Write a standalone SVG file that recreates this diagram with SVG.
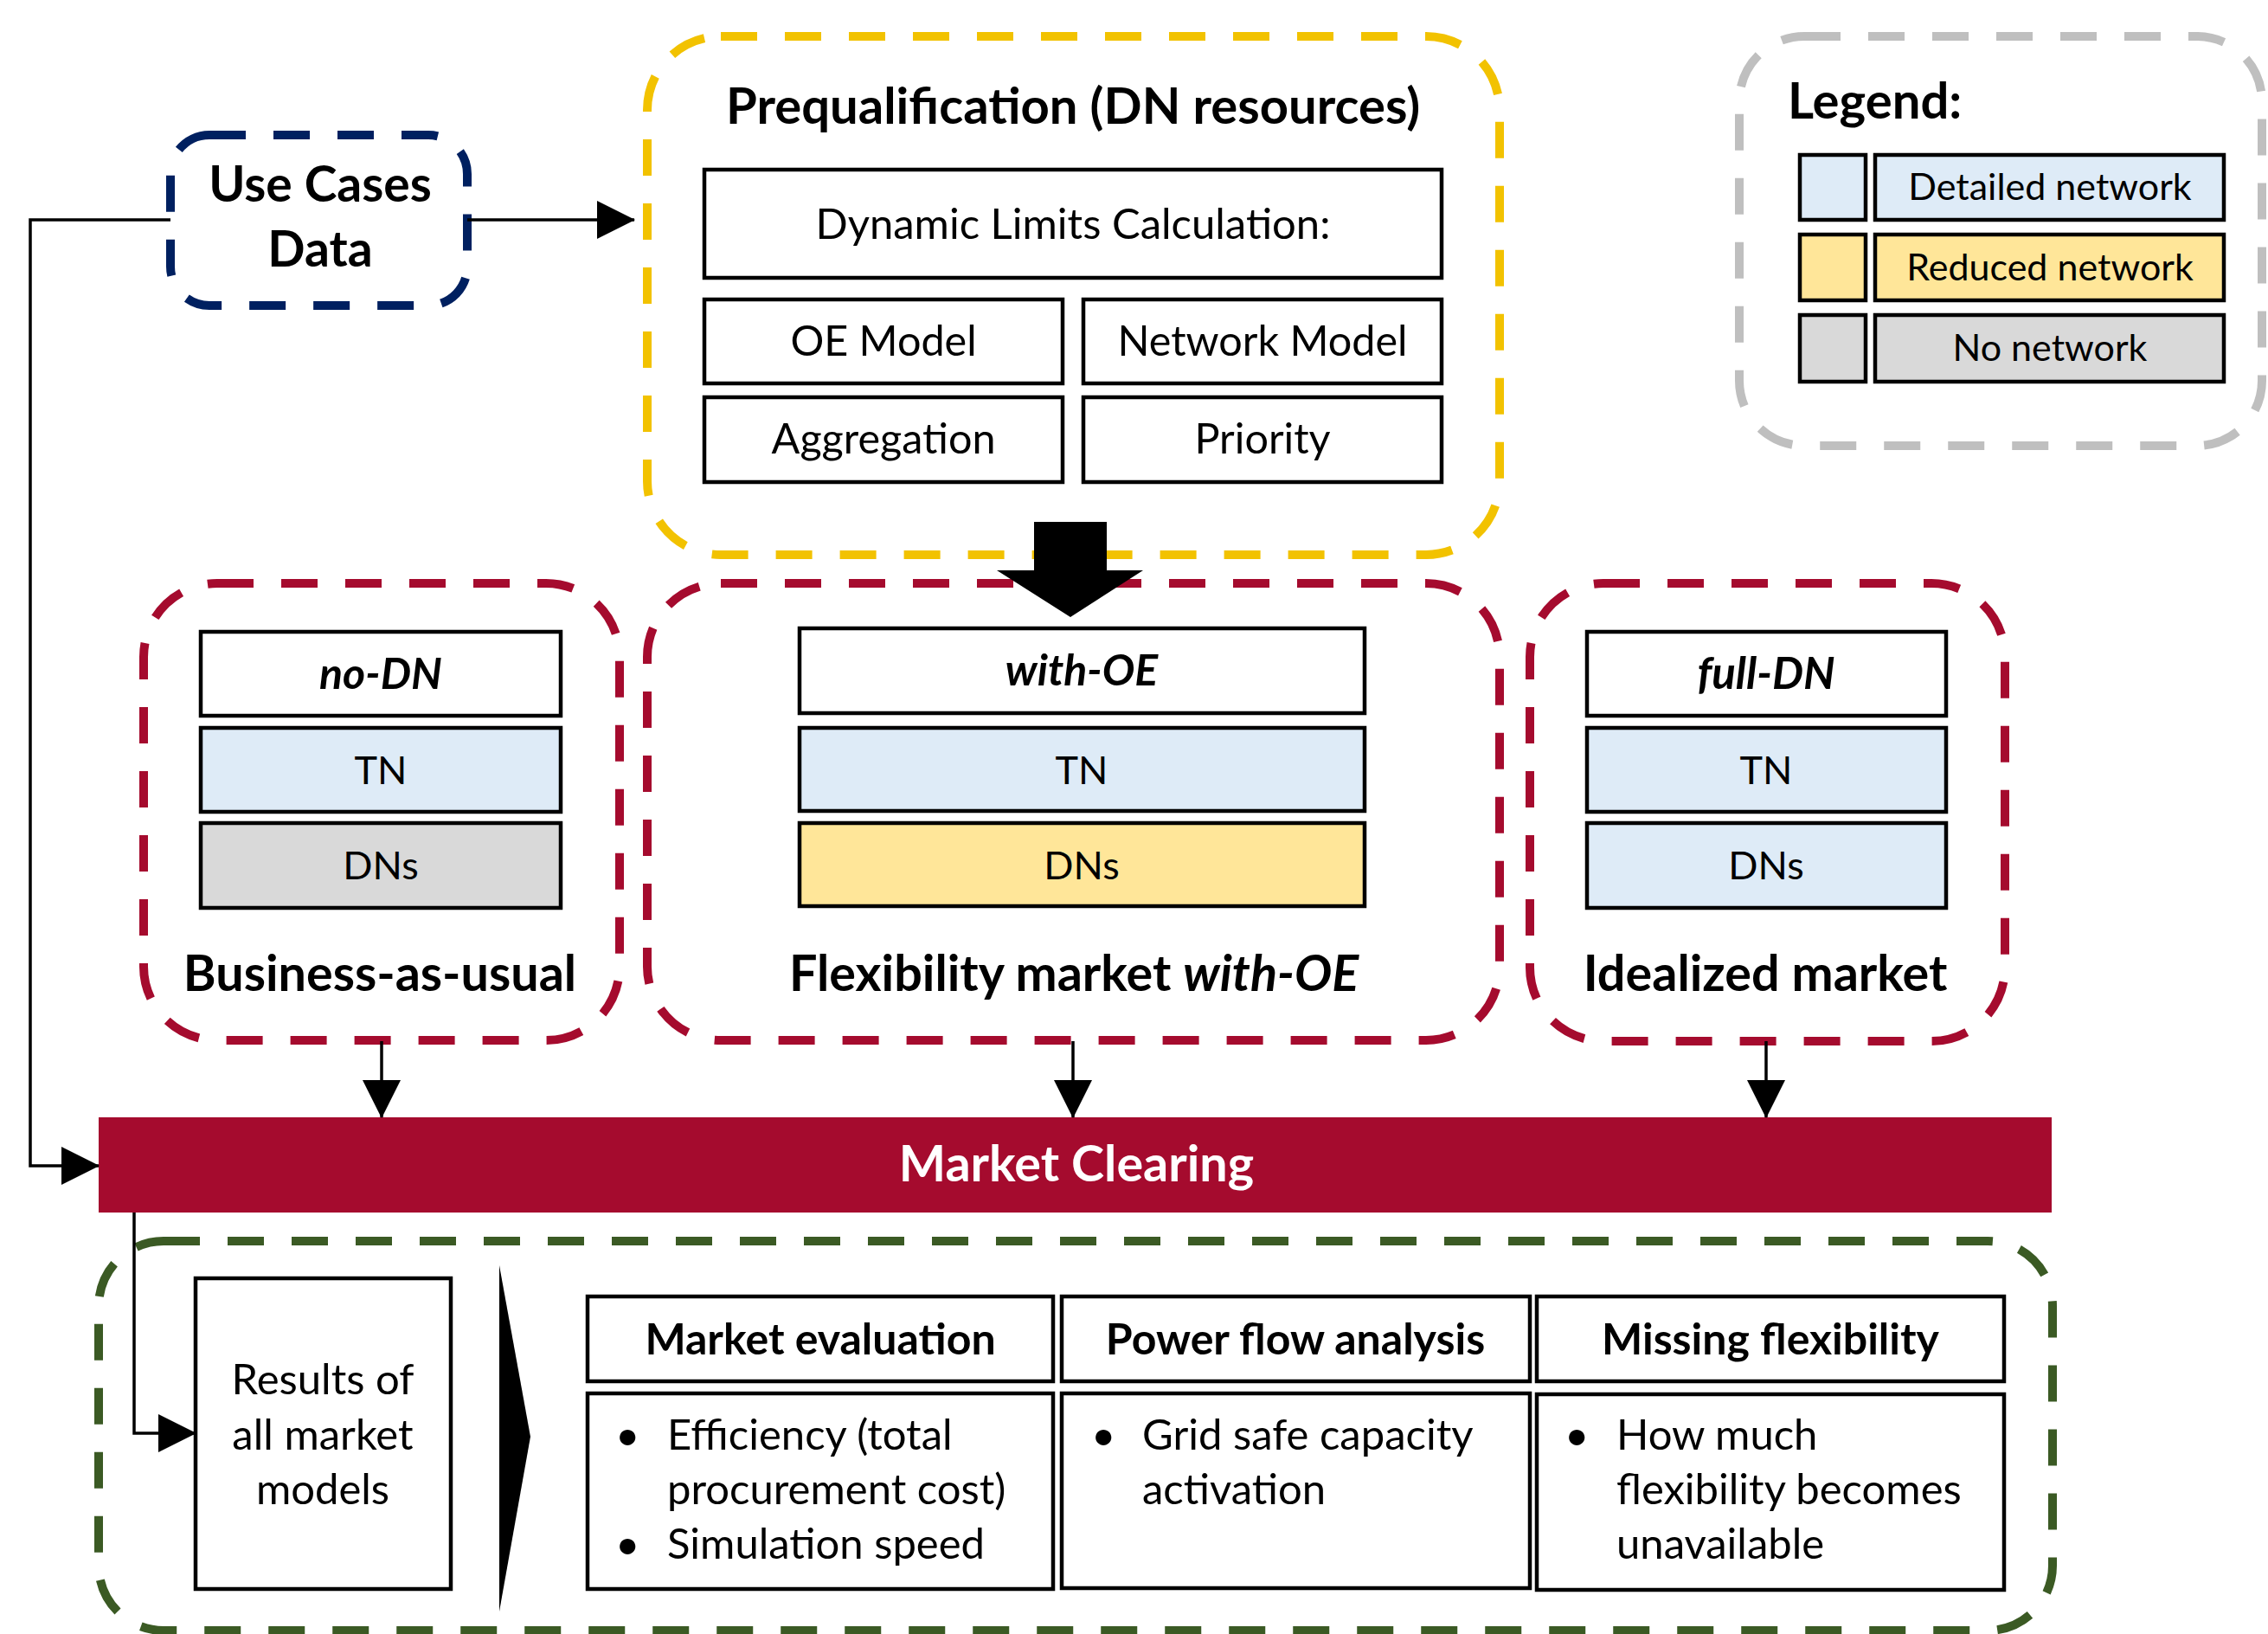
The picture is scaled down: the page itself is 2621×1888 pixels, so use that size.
<svg xmlns="http://www.w3.org/2000/svg" width="2621" height="1888" viewBox="0 0 2621 1888">
<defs>
<style>
.t{font-family:Lato,"Liberation Sans",sans-serif;fill:#000;}
.b{font-weight:bold;}
.i{font-style:italic;}
.c{text-anchor:middle;}
.box{fill:#fff;stroke:#000;stroke-width:4.5;}
.blue{fill:#DEEBF7;stroke:#000;stroke-width:4.5;}
.yel{fill:#FFE699;stroke:#000;stroke-width:4.5;}
.gry{fill:#D9D9D9;stroke:#000;stroke-width:4.5;}
.dash{fill:none;stroke-width:10;stroke-dasharray:42 32;}
.conn{fill:none;stroke:#000;stroke-width:3.5;}
</style>
<marker id="ah" markerUnits="userSpaceOnUse" markerWidth="44" markerHeight="44" viewBox="0 0 44 44" refX="43" refY="22" orient="auto">
<path d="M0,0 L44,22 L0,44 z" fill="#000"/>
</marker>
</defs>
<rect width="2621" height="1888" fill="#fff"/>

<g id="use-cases">
<rect x="197" y="156" width="343" height="197" rx="45" class="dash" stroke="#002060"/>
<text x="370" y="233" class="t b c" font-size="57">Use Cases</text>
<text x="370" y="308" class="t b c" font-size="57">Data</text>
</g>

<g id="prequalification">
<rect x="748" y="42" width="985" height="599" rx="85" class="dash" stroke="#F2C200" stroke-dasharray="40 33"/>
<text x="1240" y="143" class="t b c" font-size="58">Prequalification (DN resources)</text>
<rect x="814" y="196" width="852" height="125" class="box"/>
<text x="1240" y="276" class="t c" font-size="49">Dynamic Limits Calculation:</text>
<rect x="814" y="346" width="414" height="97" class="box"/>
<text x="1021" y="411" class="t c" font-size="48.5">OE Model</text>
<rect x="1252" y="346" width="414" height="97" class="box"/>
<text x="1459" y="411" class="t c" font-size="48.5">Network Model</text>
<rect x="814" y="459" width="414" height="98" class="box"/>
<text x="1021" y="524" class="t c" font-size="48.5">Aggregation</text>
<rect x="1252" y="459" width="414" height="98" class="box"/>
<text x="1459" y="524" class="t c" font-size="48.5">Priority</text>
</g>

<g id="legend">
<rect x="2010" y="42" width="604" height="473" rx="75" class="dash" stroke="#BFBFBF"/>
<text x="2066" y="137" class="t b" font-size="58">Legend:</text>
<rect x="2080" y="179" width="76" height="75" class="blue"/>
<rect x="2167" y="179" width="403" height="75" class="blue"/>
<text x="2369" y="231" class="t c" font-size="43">Detailed network</text>
<rect x="2080" y="271" width="76" height="76" class="yel"/>
<rect x="2167" y="271" width="403" height="76" class="yel"/>
<text x="2369" y="324" class="t c" font-size="43">Reduced network</text>
<rect x="2080" y="364" width="76" height="77" class="gry"/>
<rect x="2167" y="364" width="403" height="77" class="gry"/>
<text x="2369" y="417" class="t c" font-size="43">No network</text>
</g>

<g id="business-as-usual">
<rect x="166" y="674" width="550" height="528" rx="85" class="dash" stroke="#A50B2E"/>
<rect x="232" y="730" width="416" height="97" class="box"/>
<text x="440" y="796" class="t b i c" font-size="50">no-DN</text>
<rect x="232" y="841" width="416" height="97" class="blue"/>
<text x="440" y="906" class="t c" font-size="45">TN</text>
<rect x="232" y="951" width="416" height="98" class="gry"/>
<text x="440" y="1016" class="t c" font-size="45">DNs</text>
<text x="439" y="1145" class="t b c" font-size="57.5">Business-as-usual</text>
</g>

<g id="flexibility-market">
<rect x="748" y="674" width="985" height="528" rx="85" class="dash" stroke="#A50B2E"/>
<rect x="924" y="726" width="653" height="98" class="box"/>
<text x="1250" y="792" class="t b i c" font-size="50">with-OE</text>
<rect x="924" y="841" width="653" height="96" class="blue"/>
<text x="1250" y="906" class="t c" font-size="45">TN</text>
<rect x="924" y="951" width="653" height="96" class="yel"/>
<text x="1250" y="1016" class="t c" font-size="45">DNs</text>
<text x="1241" y="1145" class="t b c" font-size="57.5">Flexibility market <tspan class="i">with-OE</tspan></text>
</g>

<g id="idealized-market">
<rect x="1768" y="674" width="549" height="529" rx="85" class="dash" stroke="#A50B2E"/>
<rect x="1834" y="730" width="415" height="97" class="box"/>
<text x="2041" y="796" class="t b i c" font-size="51">full-DN</text>
<rect x="1834" y="841" width="415" height="97" class="blue"/>
<text x="2041" y="906" class="t c" font-size="45">TN</text>
<rect x="1834" y="951" width="415" height="98" class="blue"/>
<text x="2041" y="1016" class="t c" font-size="45">DNs</text>
<text x="2040" y="1145" class="t b c" font-size="57.5">Idealized market</text>
</g>

<g id="big-arrow">
<polygon points="1195,603 1279,603 1279,659 1321,659 1237,713 1152,659 1195,659" fill="#000"/>
</g>

<g id="market-clearing">
<rect x="114" y="1291" width="2257" height="110" fill="#A50B2E"/>
<text x="1244" y="1365" class="t b c" font-size="57.5" style="fill:#fff">Market Clearing</text>
</g>

<g id="evaluation">
<rect x="114" y="1434" width="2258" height="450" rx="75" class="dash" stroke="#3B5A24"/>
<rect x="226" y="1477" width="295" height="359" class="box"/>
<text x="373" y="1611" class="t c" font-size="49">Results of</text>
<text x="373" y="1675" class="t c" font-size="49">all market</text>
<text x="373" y="1738" class="t c" font-size="49">models</text>
<polygon points="577,1462 613,1660 577,1862" fill="#000"/>
<rect x="679" y="1498" width="538" height="98" class="box"/>
<text x="948" y="1565" class="t b c" font-size="50">Market evaluation</text>
<rect x="1227" y="1498" width="541" height="98" class="box"/>
<text x="1497" y="1565" class="t b c" font-size="50">Power flow analysis</text>
<rect x="1776" y="1498" width="540" height="98" class="box"/>
<text x="2046" y="1565" class="t b c" font-size="50">Missing flexibility</text>
<rect x="679" y="1610" width="538" height="226" class="box"/>
<text x="711" y="1675" class="t" font-size="49">•</text>
<text x="771" y="1675" class="t" font-size="49">Efficiency (total</text>
<text x="771" y="1738" class="t" font-size="49">procurement cost)</text>
<text x="711" y="1801" class="t" font-size="49">•</text>
<text x="771" y="1801" class="t" font-size="49">Simulation speed</text>
<rect x="1227" y="1610" width="541" height="225" class="box"/>
<text x="1261" y="1675" class="t" font-size="49">•</text>
<text x="1320" y="1675" class="t" font-size="49">Grid safe capacity</text>
<text x="1320" y="1738" class="t" font-size="49">activation</text>
<rect x="1776" y="1611" width="540" height="226" class="box"/>
<text x="1808" y="1675" class="t" font-size="49">•</text>
<text x="1868" y="1675" class="t" font-size="49">How much</text>
<text x="1868" y="1738" class="t" font-size="49">flexibility becomes</text>
<text x="1868" y="1801" class="t" font-size="49">unavailable</text>
</g>

<g id="connectors">
<polyline points="197,254 35,254 35,1347 114,1347" class="conn" marker-end="url(#ah)"/>
<line x1="540" y1="254" x2="733" y2="254" class="conn" marker-end="url(#ah)"/>
<line x1="441" y1="1203" x2="441" y2="1291" class="conn" marker-end="url(#ah)"/>
<line x1="1240" y1="1203" x2="1240" y2="1291" class="conn" marker-end="url(#ah)"/>
<line x1="2041" y1="1203" x2="2041" y2="1291" class="conn" marker-end="url(#ah)"/>
<polyline points="155,1401 155,1656 226,1656" class="conn" marker-end="url(#ah)"/>
</g>
</svg>
